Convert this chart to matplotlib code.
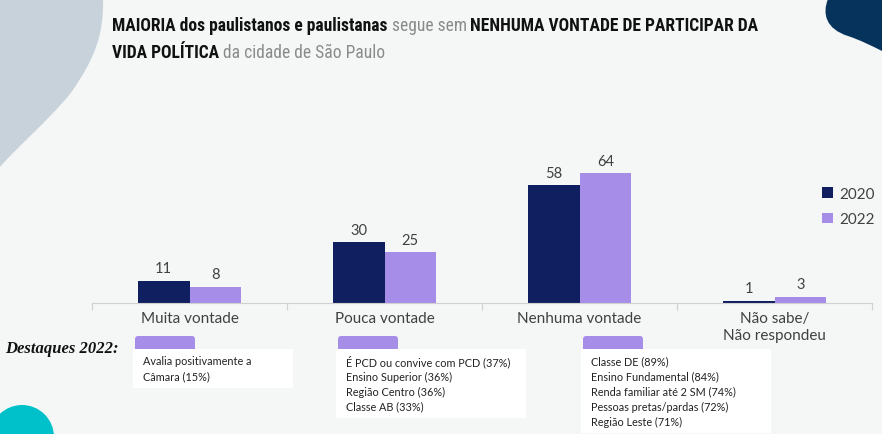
import matplotlib
matplotlib.use("Agg")
import matplotlib.pyplot as plt
from matplotlib import font_manager
import numpy as np
from matplotlib.path import Path
from matplotlib.patches import PathPatch, Circle, FancyBboxPatch, Rectangle

categories = ["Muita vontade", "Pouca vontade", "Nenhuma vontade", "Não sabe/\nNão respondeu"]
vals_2020 = [11, 30, 58, 1]
vals_2022 = [8, 25, 64, 3]
series = ["2020", "2022"]
highlights = [
    ["Avalia positivamente a", "Câmara (15%)"],
    ["É PCD ou convive com PCD (37%)", "Ensino Superior (36%)", "Região Centro (36%)", "Classe AB (33%)"],
    ["Classe DE (89%)", "Ensino Fundamental (84%)", "Renda familiar até 2 SM (74%)",
     "Pessoas pretas/pardas (72%)", "Região Leste (71%)"],
]
title_parts = [
    [("MAIORIA dos paulistanos e paulistanas", True), (" segue sem ", False),
     ("NENHUMA VONTADE DE PARTICIPAR DA", True)],
    [("VIDA POLÍTICA", True), (" da cidade de São Paulo", False)],
]

c2020 = "#0f1f5f"
c2022 = "#a68ee8"
bgc = "#f5f7f7"
txtc = "#404040"
W, H = 882, 435

# pick a narrow font for the title if one is there
names = {f.name for f in font_manager.fontManager.ttflist}
tfam = "DejaVu Sans"
for cand in ["Liberation Sans Narrow", "DejaVu Sans Condensed", "Roboto Condensed", "Open Sans Condensed"]:
    if cand in names:
        tfam = cand
        break

fig = plt.figure(figsize=(W / 100, H / 100), dpi=100)
fig.patch.set_facecolor(bgc)

# background / decoration layer in pixel coords
bg = fig.add_axes([0, 0, 1, 1], zorder=0)
bg.set_xlim(0, W)
bg.set_ylim(H, 0)
bg.axis("off")
bg.set_facecolor(bgc)

gray = Path([(0, 0), (103, 0), (104, 35), (95, 60), (70, 95), (45, 125), (20, 145), (0, 168), (0, 0)],
            [Path.MOVETO, Path.LINETO, Path.CURVE4, Path.CURVE4, Path.CURVE4,
             Path.CURVE4, Path.CURVE4, Path.CURVE4, Path.CLOSEPOLY])
bg.add_patch(PathPatch(gray, fc="#c8d2da", ec="none"))
navy = Path([(828, 0), (822, 15), (826, 30), (848, 37), (860, 41), (872, 47), (882, 52), (882, 0), (828, 0)],
            [Path.MOVETO, Path.CURVE4, Path.CURVE4, Path.CURVE4, Path.CURVE4, Path.CURVE4, Path.CURVE4,
             Path.LINETO, Path.CLOSEPOLY])
bg.add_patch(PathPatch(navy, fc="#06335c", ec="none"))
bg.add_patch(Circle((22, 438), 32, fc="#00c1c9", ec="none"))

# title, pieces placed one after another; shrink so line 1 is ~650 px wide
fig.canvas.draw()
r = fig.canvas.get_renderer()


def put_line(line, y, size, draw=True):
    x = 112
    arts = []
    for txt, bold in line:
        t = bg.text(x, y, txt, fontsize=size, family=tfam, va="center", ha="left",
                    fontweight="bold" if bold else "normal",
                    color="#111111" if bold else "#8a8a8a")
        x += t.get_window_extent(renderer=r).width
        arts.append(t)
    if not draw:
        for t in arts:
            t.remove()
    return x - 112


tsize = 13.5
wd = put_line(title_parts[0], 26, tsize, draw=False)
tsize = min(15, tsize * 650 / wd)
for i, line in enumerate(title_parts):
    put_line(line, 26 + i * 27, tsize)

# chart
ax = fig.add_axes([92 / W, (H - 304) / H, 780 / W, 203 / H], zorder=1)
ax.set_facecolor("none")
x = np.arange(len(categories))
w = 0.265
b1 = ax.bar(x - w / 2, vals_2020, w, color=c2020, label=series[0])
b2 = ax.bar(x + w / 2, vals_2022, w, color=c2022, label=series[1])
for bars in (b1, b2):
    for rect in bars:
        ax.annotate(f"{rect.get_height():g}", (rect.get_x() + rect.get_width() / 2, rect.get_height()),
                    xytext=(0, 4), textcoords="offset points", ha="center", va="bottom",
                    fontsize=10.5, color=txtc, family="Lato")
ax.set_xlim(-0.5, 3.5)
ax.set_ylim(0, 100)
for s in ["top", "right", "left"]:
    ax.spines[s].set_visible(False)
ax.spines["bottom"].set_color("#d0d0d0")
ax.set_yticks([])
ax.set_xticks(np.arange(-0.5, 4, 1))
ax.set_xticklabels([])
ax.tick_params(axis="x", length=5, color="#d0d0d0")
ax.set_xticks(x, minor=True)
ax.set_xticklabels(categories, minor=True, fontsize=11, color=txtc, family="Lato")
ax.tick_params(axis="x", which="minor", length=0, pad=6)
ax.legend(frameon=False, loc="upper left", bbox_to_anchor=(822 / W, 1 - 188 / H),
          bbox_transform=fig.transFigure, handlelength=0.7, handleheight=0.7,
          labelspacing=0.75, handletextpad=0.4, borderaxespad=0, borderpad=0,
          prop={"family": "Lato", "size": 11}, labelcolor=txtc)

# highlights
bg.text(5, 349, "Destaques 2022:", fontsize=12, family="Liberation Serif", style="italic",
        fontweight="bold", va="center", color="#111111")
boxes = [(133, 350, 160), (336, 350, 190), (581, 350, 190)]
for (bx, by, bw), lines in zip(boxes, highlights):
    bh = 9 + 15 * len(lines)
    bg.add_patch(FancyBboxPatch((bx + 2, by - 13), 60, 16, boxstyle="round,pad=0,rounding_size=3",
                                fc=c2022, ec="none"))
    bg.add_patch(Rectangle((bx, by), bw, bh, fc="white", ec="none"))
    for j, ln in enumerate(lines):
        bg.text(bx + 10, by + 12 + 15 * j, ln, fontsize=7.8, family="Lato", va="center",
                color="#222222")

fig.savefig("out.png", dpi=100, facecolor=bgc)
